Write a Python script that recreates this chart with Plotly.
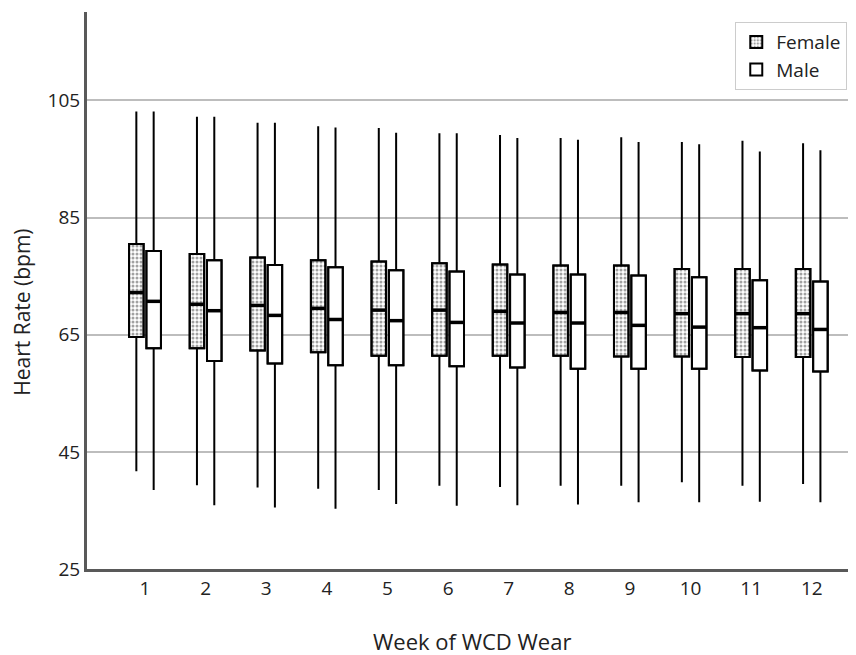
import plotly.graph_objects as go

weeks = [1, 2, 3, 4, 5, 6, 7, 8, 9, 10, 11, 12]
week_labels = [str(w) for w in weeks]

female_upper = [103.1, 102.2, 101.2, 100.6, 100.3, 99.4, 99.1, 98.6, 98.7, 97.9, 98.1, 97.7]
female_q3 = [80.5, 78.8, 78.2, 77.7, 77.5, 77.2, 77.0, 76.8, 76.8, 76.2, 76.2, 76.2]
female_median = [72.2, 70.2, 70.0, 69.5, 69.2, 69.2, 69.0, 68.8, 68.8, 68.6, 68.6, 68.6]
female_q1 = [64.6, 62.7, 62.3, 62.0, 61.4, 61.4, 61.4, 61.4, 61.3, 61.3, 61.2, 61.2]
female_lower = [41.7, 39.3, 38.9, 38.7, 38.5, 39.2, 39.0, 39.2, 39.2, 39.8, 39.2, 39.5]

male_upper = [103.1, 102.2, 101.2, 100.4, 99.5, 99.4, 98.6, 98.3, 97.9, 97.5, 96.3, 96.5]
male_q3 = [79.3, 77.7, 76.9, 76.5, 76.0, 75.8, 75.3, 75.3, 75.1, 74.8, 74.3, 74.1]
male_median = [70.7, 69.1, 68.3, 67.6, 67.4, 67.1, 67.0, 67.0, 66.6, 66.3, 66.2, 65.9]
male_q1 = [62.7, 60.5, 60.1, 59.8, 59.8, 59.6, 59.4, 59.2, 59.2, 59.2, 58.9, 58.7]
male_lower = [38.5, 35.9, 35.5, 35.3, 36.1, 35.8, 35.9, 36.0, 36.4, 36.4, 36.5, 36.4]

OFFSET = 0.143
BOXW = 0.24
FONT = "Open Sans"
TXT = "#222222"

xf = [w - OFFSET for w in weeks]
xm = [w + OFFSET for w in weeks]

fig = go.Figure()

# filled box bodies (bars from q1 to q3)
fig.add_trace(go.Bar(
    x=xf, base=female_q1, y=[a - b for a, b in zip(female_q3, female_q1)],
    width=BOXW, name="Female",
    marker=dict(color="white", line=dict(color="black", width=2),
                pattern=dict(shape=".", fgcolor="#444444", bgcolor="white",
                             size=4, solidity=0.45)),
    hoverinfo="skip",
))
fig.add_trace(go.Bar(
    x=xm, base=male_q1, y=[a - b for a, b in zip(male_q3, male_q1)],
    width=BOXW, name="Male",
    marker=dict(color="white", line=dict(color="black", width=2)),
    hoverinfo="skip",
))

# box outlines + whiskers
for xs, q1, med, q3, lo, up in [
    (xf, female_q1, female_median, female_q3, female_lower, female_upper),
    (xm, male_q1, male_median, male_q3, male_lower, male_upper),
]:
    fig.add_trace(go.Box(
        x=xs, q1=q1, median=med, q3=q3, lowerfence=lo, upperfence=up,
        width=BOXW, whiskerwidth=0, fillcolor="rgba(0,0,0,0)",
        line=dict(color="black", width=2), showlegend=False,
    ))
    fig.add_trace(go.Scatter(
        x=xs, y=med, mode="markers", showlegend=False, hoverinfo="skip",
        marker=dict(symbol="line-ew", size=10.5,
                    line=dict(color="black", width=3.5)),
    ))

fig.update_layout(
    width=848, height=647,
    margin=dict(l=79, r=0, t=4, b=86),
    paper_bgcolor="white", plot_bgcolor="white",
    barmode="overlay", boxmode="overlay",
    font=dict(family=FONT, color=TXT),
    legend=dict(x=0.843, y=0.982, xanchor="left", yanchor="top",
                bordercolor="#cccccc", borderwidth=1, bgcolor="white",
                font=dict(size=19, family=FONT, color=TXT),
                tracegroupgap=2),
    xaxis=dict(range=[0.043, 12.73], tickmode="array", tickvals=weeks,
               ticktext=week_labels, showgrid=False, zeroline=False,
               showline=True, linecolor="#595959", linewidth=3,
               ticks="", tickfont=dict(size=19)),
    yaxis=dict(range=[25, 120.1], tick0=25, dtick=20, showgrid=True,
               gridcolor="#bdbdbd", gridwidth=1.5, zeroline=False,
               showline=True, linecolor="#595959", linewidth=3,
               ticks="", tickfont=dict(size=19)),
    annotations=[
        dict(text="Week of WCD Wear", xref="paper", yref="paper",
             x=0.5, y=-0.129, xanchor="center", yanchor="middle",
             showarrow=False, font=dict(size=22, family=FONT, color=TXT)),
        dict(text="Heart Rate (bpm)", xref="paper", yref="paper",
             x=-0.0845, y=0.46, xanchor="center", yanchor="middle",
             textangle=-90, showarrow=False,
             font=dict(size=21, family=FONT, color=TXT)),
    ],
)

fig.write_html("out.html")
